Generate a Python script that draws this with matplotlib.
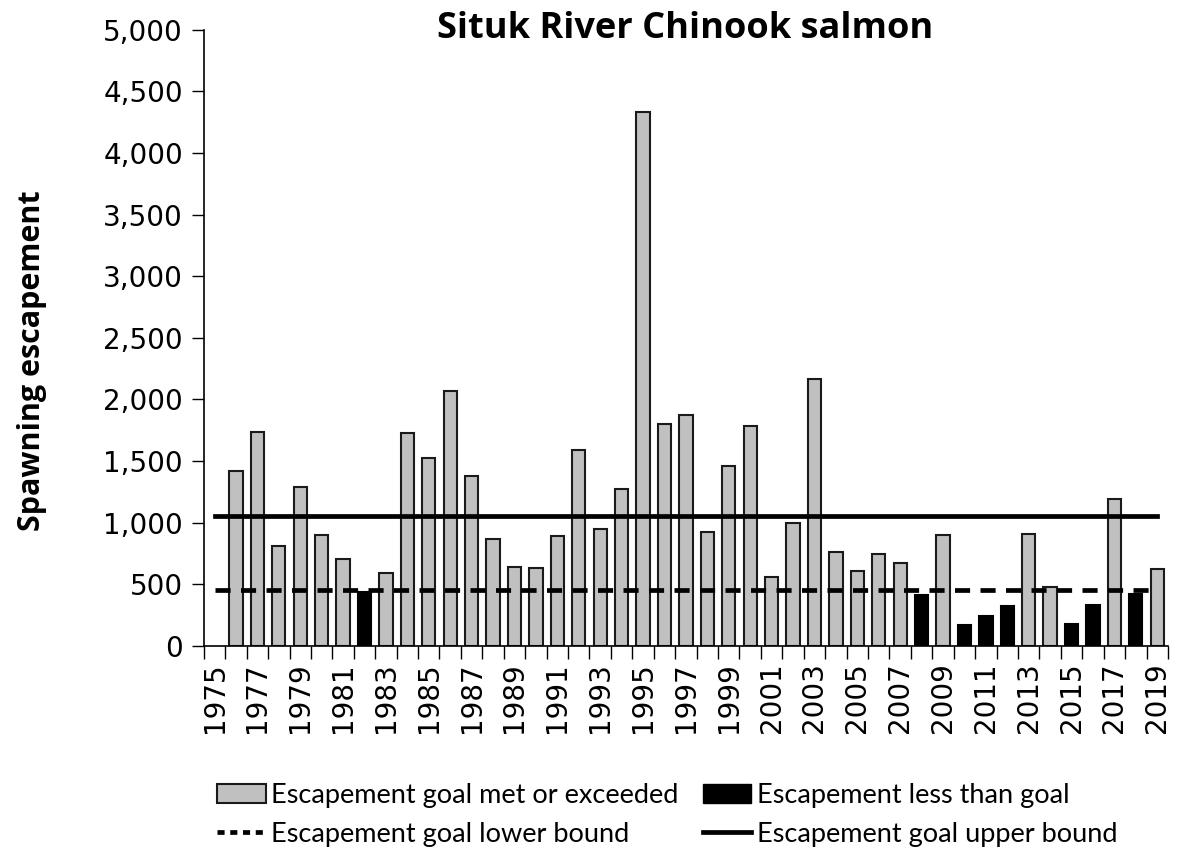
import numpy as np
import matplotlib
matplotlib.use("Agg")
import matplotlib.pyplot as plt
from matplotlib.patches import Patch
from matplotlib.lines import Line2D
from matplotlib.ticker import FuncFormatter, FixedLocator

years = list(range(1975, 2020))
escapement = [np.nan, 1420, 1732, 809, 1286, 901, 701, 433, 588, 1726,
              1521, 2067, 1377, 863, 636, 628, 888, 1588, 950, 1272,
              4334, 1799, 1875, 920, 1461, 1781, 558, 998, 2162, 758,
              609, 744, 674, 411, 898, 168, 241, 325, 906, 476,
              176, 333, 1188, 420, 622]
lower_bound = 450
upper_bound = 1050

title = "Situk River Chinook salmon"
ylabel = "Spawning escapement"
legend_labels = ["Escapement goal met or exceeded", "Escapement less than goal",
                 "Escapement goal lower bound", "Escapement goal upper bound"]

label_font = ["Liberation Sans Narrow", "Lato", "DejaVu Sans"]

fig = plt.figure(figsize=(11.78, 8.52), dpi=100)
ax = fig.add_axes([0.173, 0.242, 0.9915 - 0.173, 0.965 - 0.242])

x = np.arange(len(years))
vals = np.array(escapement, dtype=float)
met = np.where(vals >= lower_bound, vals, np.nan)
less = np.where(vals < lower_bound, vals, np.nan)

ax.bar(x, met, width=0.62, color="#c0c0c0", edgecolor="#1a1a1a", linewidth=1.5, zorder=2)
ax.bar(x, less, width=0.62, color="black", edgecolor="black", linewidth=1.5, zorder=2)
ax.plot(x, [lower_bound] * len(x), color="black", linewidth=3.4,
        linestyle=(0, (3.2, 2.2)), zorder=3)
ax.plot(x, [upper_bound] * len(x), color="black", linewidth=3.4, zorder=3)

ax.set_xlim(-0.5, len(years) - 0.5)
ax.set_ylim(0, 5000)
ax.set_yticks(np.arange(0, 5001, 500))
ax.yaxis.set_major_formatter(FuncFormatter(lambda v, p: f"{int(v):,}"))
ax.tick_params(axis="y", direction="out", length=9, width=1, labelsize=20, pad=6)

ax.set_xticks(x[::2])
ax.set_xticklabels([str(y) for y in years[::2]], rotation=90, fontsize=20)
ax.xaxis.set_minor_locator(FixedLocator(np.arange(-0.5, len(years), 1.0)))
ax.tick_params(axis="x", which="major", length=0, pad=12)
ax.tick_params(axis="x", which="minor", direction="out", length=9, width=1)

for s in ["top", "right"]:
    ax.spines[s].set_visible(False)
for s in ["left", "bottom"]:
    ax.spines[s].set_linewidth(1.2)

fig.text(0.5815, 0.966, title, fontsize=26, fontweight="bold",
         family=["Open Sans", "DejaVu Sans"], ha="center", va="center")
fig.text(0.027, 0.577, ylabel, rotation=90, fontsize=22, fontweight="bold",
         family=["Open Sans", "DejaVu Sans"], ha="center", va="center")

handles = [Patch(facecolor="#c0c0c0", edgecolor="#1a1a1a", linewidth=1.5),
           Line2D([], [], color="black", linewidth=3.4, linestyle=(0, (1.5, 1.2))),
           Patch(facecolor="black", edgecolor="black"),
           Line2D([], [], color="black", linewidth=3.4)]
labels = [legend_labels[0], legend_labels[2], legend_labels[1], legend_labels[3]]
fig.legend(handles, labels, ncol=2, loc="upper left", bbox_to_anchor=(0.184, 0.081),
           frameon=False, prop={"family": label_font, "size": 19.5},
           handlelength=1.8, handletextpad=0.2, columnspacing=0.9, labelspacing=0.5,
           borderaxespad=0, borderpad=0)

fig.savefig("out.png", dpi=100)
